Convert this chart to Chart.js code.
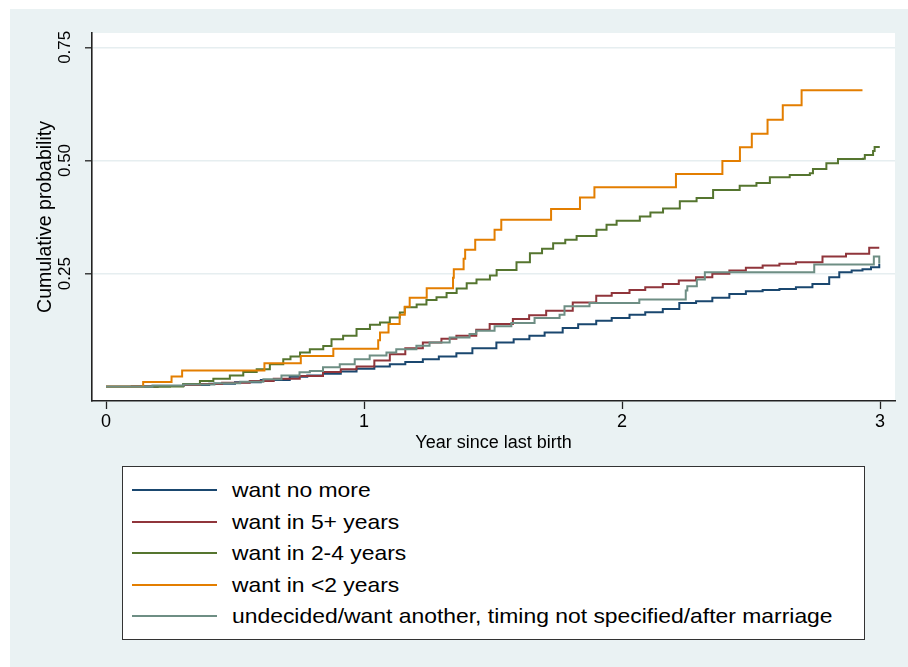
<!DOCTYPE html>
<html>
<head>
<meta charset="utf-8">
<script src="https://cdn.jsdelivr.net/npm/chart.js@4"></script>
<style>
  html, body { margin:0; padding:0; width:908px; height:667px; overflow:hidden; background:#ffffff;
    font-family:"Liberation Sans", Arial, Helvetica, sans-serif; }
  #bg { position:absolute; left:10px; top:9px; width:898px; height:658px; background:#EAF2F3; }
  #c { position:absolute; left:0; top:0; }
  #legend { position:absolute; left:122px; top:466px; width:741px; height:172px; background:#fff;
    border:1px solid #333; box-sizing:content-box; }
  .swatch { position:absolute; left:9px; width:85px; height:2px; }
  .lbl { position:absolute; left:109px; height:24px; line-height:24px; font-size:21px; color:#000;
    white-space:nowrap; transform-origin:left center; transform:scaleX(1.09); }
</style>
</head>
<body>
<div id="bg"></div>
<canvas id="c" width="908" height="667"></canvas>
<div id="legend"></div>
<script>
// ---------------- data ----------------
const seriesLabels = [
  "want no more",
  "want in 5+ years",
  "want in 2-4 years",
  "want in <2 years",
  "undecided/want another, timing not specified/after marriage"
];

const noMoreT = [0, 0.10, 0.20, 0.30, 0.40, 0.50, 0.60, 0.712, 0.78, 0.841, 0.91, 0.971, 1.04, 1.100, 1.16, 1.228, 1.29, 1.358, 1.42, 1.513, 1.58, 1.641, 1.70, 1.770, 1.83, 1.900, 1.96, 2.029, 2.09, 2.158, 2.222, 2.287, 2.35, 2.416, 2.48, 2.545, 2.61, 2.674, 2.738, 2.803, 2.842, 2.89, 2.932, 2.965, 2.997];
const noMoreP = [0, 0.001, 0.002, 0.004, 0.007, 0.010, 0.015, 0.022, 0.025, 0.029, 0.034, 0.040, 0.045, 0.050, 0.055, 0.061, 0.067, 0.074, 0.085, 0.098, 0.105, 0.113, 0.120, 0.130, 0.138, 0.146, 0.152, 0.159, 0.165, 0.172, 0.185, 0.189, 0.197, 0.205, 0.211, 0.214, 0.216, 0.220, 0.227, 0.242, 0.253, 0.257, 0.260, 0.264, 0.2715];

const in5T = [0, 0.10, 0.20, 0.30, 0.364, 0.45, 0.557, 0.65, 0.751, 0.841, 0.91, 0.971, 1.04, 1.100, 1.16, 1.228, 1.30, 1.358, 1.435, 1.487, 1.577, 1.64, 1.706, 1.809, 1.900, 1.96, 2.029, 2.09, 2.158, 2.22, 2.287, 2.35, 2.416, 2.48, 2.545, 2.61, 2.674, 2.777, 2.868, 2.958, 2.997];
const in5P = [0, 0.001, 0.002, 0.004, 0.006, 0.009, 0.013, 0.018, 0.024, 0.033, 0.039, 0.045, 0.058, 0.072, 0.085, 0.098, 0.106, 0.113, 0.126, 0.139, 0.150, 0.158, 0.168, 0.1865, 0.201, 0.207, 0.214, 0.220, 0.227, 0.235, 0.242, 0.250, 0.257, 0.263, 0.268, 0.272, 0.275, 0.288, 0.294, 0.307, 0.307];

const in24T = [0, 0.248, 0.299, 0.364, 0.416, 0.48, 0.532, 0.584, 0.635, 0.687, 0.715, 0.752, 0.79, 0.842, 0.874, 0.919, 0.971, 1.023, 1.062, 1.100, 1.139, 1.158, 1.204, 1.242, 1.281, 1.320, 1.359, 1.398, 1.436, 1.488, 1.514, 1.591, 1.643, 1.690, 1.733, 1.780, 1.824, 1.901, 1.940, 1.979, 2.069, 2.110, 2.159, 2.224, 2.289, 2.353, 2.456, 2.521, 2.573, 2.650, 2.728, 2.740, 2.792, 2.837, 2.934, 2.941, 2.973, 2.979, 2.999];
const in24P = [0, 0.001, 0.006, 0.013, 0.018, 0.025, 0.033, 0.039, 0.050, 0.061, 0.067, 0.076, 0.083, 0.090, 0.105, 0.113, 0.128, 0.137, 0.142, 0.153, 0.164, 0.176, 0.182, 0.192, 0.198, 0.207, 0.217, 0.229, 0.237, 0.246, 0.258, 0.275, 0.295, 0.305, 0.317, 0.325, 0.333, 0.347, 0.358, 0.367, 0.376, 0.385, 0.394, 0.410, 0.417, 0.435, 0.444, 0.450, 0.463, 0.468, 0.472, 0.481, 0.494, 0.503, 0.504, 0.512, 0.521, 0.530, 0.530];

const in2T = [0, 0.144, 0.254, 0.295, 0.614, 0.755, 0.881, 1.055, 1.062, 1.095, 1.138, 1.158, 1.177, 1.243, 1.345, 1.348, 1.386, 1.392, 1.431, 1.506, 1.532, 1.725, 1.837, 1.893, 2.209, 2.389, 2.457, 2.503, 2.564, 2.623, 2.696, 2.932];
const in2P = [0, 0.0105, 0.023, 0.036, 0.052, 0.068, 0.084, 0.103, 0.120, 0.139, 0.159, 0.177, 0.197, 0.218, 0.241, 0.260, 0.283, 0.303, 0.325, 0.347, 0.369, 0.393, 0.418, 0.441, 0.470, 0.499, 0.529, 0.559, 0.590, 0.622, 0.655, 0.655];

const undecT = [0, 0.18, 0.30, 0.42, 0.52, 0.61, 0.68, 0.75, 0.79, 0.841, 0.906, 0.964, 1.022, 1.087, 1.125, 1.203, 1.254, 1.332, 1.409, 1.435, 1.506, 1.571, 1.661, 1.758, 1.777, 1.874, 2.067, 2.247, 2.253, 2.29, 2.321, 2.745, 2.976, 2.997];
const undecP = [0, 0.003, 0.005, 0.008, 0.011, 0.017, 0.025, 0.032, 0.035, 0.043, 0.050, 0.061, 0.069, 0.076, 0.083, 0.091, 0.098, 0.109, 0.1165, 0.124, 0.134, 0.141, 0.152, 0.159, 0.178, 0.185, 0.193, 0.213, 0.222, 0.237, 0.253, 0.270, 0.288, 0.272];

const xTickValues = [0, 1, 2, 3];
const xTickLabels = ["0", "1", "2", "3"];
const yTickValues = [0.25, 0.50, 0.75];
const yTickLabels = ["0.25", "0.50", "0.75"];
const xTitle = "Year since last birth";
const yTitle = "Cumulative probability";

// ---------------- styles ----------------
const seriesColors = ["#1A476F", "#90353B", "#55752F", "#E37E00", "#6E8E84"];
const FONT = '"Liberation Sans", Arial, Helvetica, sans-serif';

const seriesT = [noMoreT, in5T, in24T, in2T, undecT];
const seriesP = [noMoreP, in5P, in24P, in2P, undecP];

const datasets = seriesLabels.map((lab, i) => ({
  label: lab,
  data: seriesT[i].map((t, j) => ({ x: t, y: seriesP[i][j] })),
  borderColor: seriesColors[i],
  backgroundColor: seriesColors[i],
  borderWidth: 2,
  pointRadius: 0,
  stepped: true,
  fill: false,
  order: seriesLabels.length - i
}));

const plotBg = {
  id: 'plotBg',
  beforeDraw(chart) {
    const { ctx, chartArea: a } = chart;
    ctx.save();
    ctx.fillStyle = '#ffffff';
    ctx.fillRect(a.left, a.top, a.right - a.left, a.bottom - a.top);
    ctx.restore();
  }
};

new Chart(document.getElementById('c'), {
  type: 'line',
  data: { datasets },
  plugins: [plotBg],
  options: {
    responsive: false,
    animation: false,
    devicePixelRatio: 1,
    layout: { padding: { top: 33, right: 13, bottom: 200, left: 0 } },
    plugins: { legend: { display: false }, tooltip: { enabled: false } },
    scales: {
      x: {
        type: 'linear',
        min: -0.0543, max: 3.058,
        afterBuildTicks: s => { s.ticks = xTickValues.map(v => ({ value: v })); },
        afterFit: s => { s.height = 66; },
        grid: { display: true, drawOnChartArea: false, drawTicks: true, tickLength: 8, tickColor: '#222', tickWidth: 1.3 },
        border: { display: true, color: '#222', width: 1.6 },
        ticks: {
          font: { family: FONT, size: 18 }, color: '#000', padding: 2, maxRotation: 0, minRotation: 0,
          callback: (v) => xTickLabels[xTickValues.indexOf(v)]
        },
        title: { display: true, text: xTitle, font: { family: FONT, size: 18 }, color: '#000', padding: { top: 0, bottom: 13 } }
      },
      y: {
        type: 'linear',
        min: -0.0313, max: 0.7816,
        afterBuildTicks: s => { s.ticks = yTickValues.map(v => ({ value: v })); },
        afterFit: s => { s.width = 92; },
        grid: { display: true, drawOnChartArea: true, color: '#E6EEF0', lineWidth: 1.6, drawTicks: true, tickLength: 7, tickColor: '#222', tickWidth: 1.3 },
        border: { display: true, color: '#222', width: 1.6 },
        ticks: {
          font: { family: FONT, size: 17 }, color: '#000', padding: 3.5, minRotation: 90, maxRotation: 90, crossAlign: 'center',
          callback: (v) => yTickLabels[yTickValues.indexOf(v)]
        },
        title: { display: true, text: yTitle, font: { family: FONT, size: 19.5 }, color: '#000', padding: { top: 34.3, bottom: 0 } }
      }
    }
  }
});

// ---------------- legend (HTML, from datasets) ----------------
const legend = document.getElementById('legend');
datasets.forEach((d, i) => {
  const cy = 23 + 31.6 * i;
  const sw = document.createElement('div');
  sw.className = 'swatch';
  sw.style.top = (cy - 1) + 'px';
  sw.style.background = d.borderColor;
  legend.appendChild(sw);
  const tx = document.createElement('div');
  tx.className = 'lbl';
  tx.style.top = (cy - 12) + 'px';
  tx.textContent = d.label;
  legend.appendChild(tx);
});
</script>
</body>
</html>
